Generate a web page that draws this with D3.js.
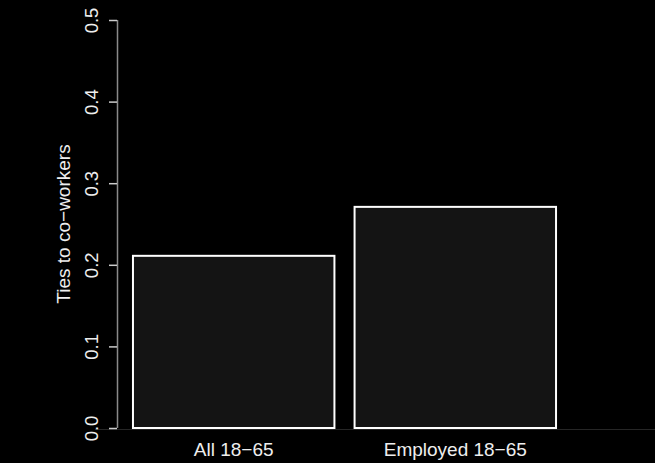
<!DOCTYPE html>
<html>
<head>
<meta charset="utf-8">
<script src="https://cdn.jsdelivr.net/npm/d3@7"></script>
<style>
  html, body { margin: 0; padding: 0; background: #000; }
  svg { display: block; }
  text { font-family: "Liberation Sans", Arial, Helvetica, sans-serif; fill: #eeeeee; }
</style>
</head>
<body>
<div id="chart"></div>
<script>
const categories = ["All 18\u221265", "Employed 18\u221265"];
const values = [0.211, 0.271];
const yTicks = [0.0, 0.1, 0.2, 0.3, 0.4, 0.5];
const yTitle = "Ties to co\u2212workers";

const W = 655, H = 463;
const svg = d3.select("#chart").append("svg").attr("width", W).attr("height", H);
svg.append("rect").attr("width", W).attr("height", H).attr("fill", "#000");

const y = d3.scaleLinear().domain([0, 0.5]).range([428, 20]);
const x = d3.scaleBand().domain(categories).range([123, 566]).paddingInner(0.0909).paddingOuter(0.045);

const axisX = 117;

// faint baseline
svg.append("line").attr("x1", 95).attr("x2", W).attr("y1", 429.5).attr("y2", 429.5)
  .attr("stroke", "#262626").attr("stroke-width", 1);

// bars
svg.selectAll("rect.bar").data(values).enter().append("rect")
  .attr("class", "bar")
  .attr("x", (d, i) => x(categories[i]))
  .attr("width", x.bandwidth())
  .attr("y", d => y(d))
  .attr("height", d => y(0) - y(d))
  .attr("fill", "#141414")
  .attr("stroke", "#ffffff")
  .attr("stroke-width", 2);

// y axis
const axis = d3.axisLeft(y).tickValues(yTicks).tickSize(8).tickFormat(d3.format(".1f"));
const g = svg.append("g").attr("transform", `translate(${axisX},0)`).call(axis);
g.select(".domain").attr("stroke", "#8a8a8a").attr("stroke-width", 1.5).attr("d", `M0.5,${y(0)}V${y(0.5)}`);
g.selectAll(".tick line").attr("stroke", "#cccccc").attr("stroke-width", 1.5);
g.selectAll(".tick text")
  .attr("x", null).attr("dy", null)
  .attr("transform", "translate(-19,0) rotate(-90)")
  .attr("text-anchor", "middle")
  .attr("fill", "#eeeeee")
  .style("font-size", "18.5px")
  .style("font-family", "'Liberation Sans', Arial, sans-serif");

// y title
svg.append("text")
  .attr("transform", `translate(70,${(y(0) + y(0.5)) / 2}) rotate(-90)`)
  .attr("text-anchor", "middle")
  .style("font-size", "19px")
  .text(yTitle);

// x labels
svg.selectAll("text.xl").data(categories).enter().append("text")
  .attr("class", "xl")
  .attr("x", d => x(d) + x.bandwidth() / 2)
  .attr("y", 456)
  .attr("text-anchor", "middle")
  .style("font-size", "19px")
  .text(d => d);
</script>
</body>
</html>
